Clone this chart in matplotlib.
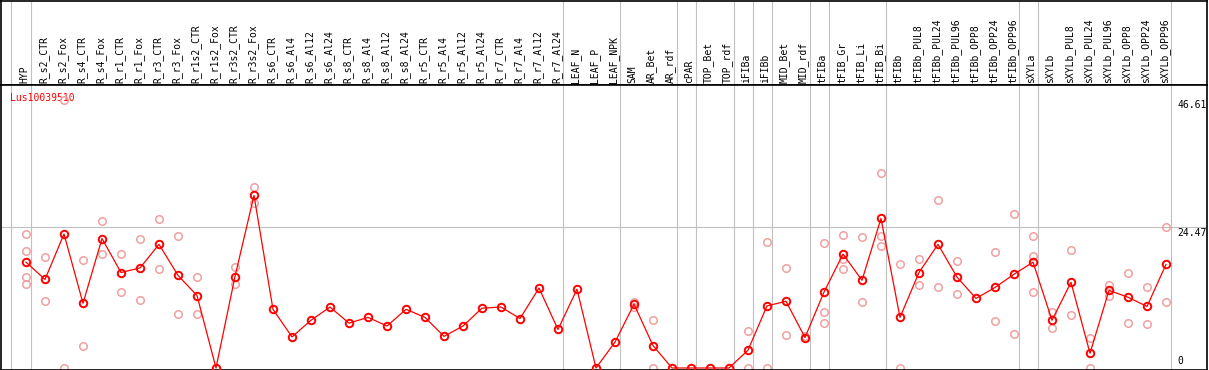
import numpy as np
import matplotlib
matplotlib.use("Agg")
import matplotlib.pyplot as plt

# sample names (header columns)
samples = ["HYP", "R_s2_CTR", "R_s2_Fox", "R_s4_CTR", "R_s4_Fox", "R_r1_CTR",
           "R_r1_Fox", "R_r3_CTR", "R_r3_Fox", "R_r1s2_CTR", "R_r1s2_Fox",
           "R_r3s2_CTR", "R_r3s2_Fox", "R_s6_CTR", "R_s6_Al4", "R_s6_Al12",
           "R_s6_Al24", "R_s8_CTR", "R_s8_Al4", "R_s8_Al12", "R_s8_Al24",
           "R_r5_CTR", "R_r5_Al4", "R_r5_Al12", "R_r5_Al24", "R_r7_CTR",
           "R_r7_Al4", "R_r7_Al12", "R_r7_Al24", "LEAF_N", "LEAF_P", "LEAF_NPK",
           "SAM", "AR_Bet", "AR_rdf", "cPAR", "TOP_Bet", "TOP_rdf", "iFIBa",
           "iFIBb", "MID_Bet", "MID_rdf", "tFIBa", "tFIB_Gr", "tFIB_Li",
           "tFIB_Bi", "tFIBb", "tFIBb_PUL8", "tFIBb_PUL24", "tFIBb_PUL96",
           "tFIBb_OPP8", "tFIBb_OPP24", "tFIBb_OPP96", "sXYLa", "sXYLb",
           "sXYLb_PUL8", "sXYLb_PUL24", "sXYLb_PUL96", "sXYLb_OPP8",
           "sXYLb_OPP24", "sXYLb_OPP96"]

# mean expression per sample
means = [18.4, 15.4, 23.3, 11.25, 22.5, 16.6, 17.4, 21.5, 16.1, 12.6, 0, 15.9, 30.0,
         10.2, 5.4, 8.3, 10.6, 7.8, 8.8, 7.3, 10.2, 8.8, 5.5, 7.3, 10.4, 10.6, 8.6,
         13.9, 6.7, 13.7, 0,
         4.5, 11.1, 3.9, 0, 0, 0, 0, 3.1, 10.8, 11.6, 5.3, 13.2, 19.8, 15.25, 26.0,
         8.8, 16.6, 21.5, 15.8, 12.1, 14.0, 16.3, 18.4, 8.3, 14.9, 2.55, 13.5, 12.3,
         10.7, 18.0]

# visible replicate values per sample
reps = [[23.3, 20.3, 15.8, 14.6], [19.3, 11.6], [46.61, 0], [18.7, 3.8], [25.5, 19.8],
        [19.8, 13.3], [22.5, 11.9], [25.9, 17.2], [22.9, 9.4], [15.9, 9.4], [],
        [17.6, 14.6], [31.4, 28.6],
        [], [], [], [], [], [], [], [], [], [], [], [], [], [], [], [], [], [], [],
        [11.5, 10.6], [8.3, 0], [], [], [], [], [6.4, 0], [21.9, 0], [17.3, 5.7],
        [5.6], [21.7, 9.7, 7.9], [23.1, 18.9, 17.2], [22.7, 11.4], [33.9, 22.9, 21.2],
        [18.0, 0], [18.9, 14.4], [29.2, 14.0], [18.6, 12.8], [], [20.1, 8.1],
        [26.7, 5.9], [22.9, 19.4, 13.2], [9.7, 6.9], [20.6, 9.2], [5.3, 0],
        [14.4, 12.6], [16.6, 7.9], [14.0, 7.6], [24.6, 11.4]]

# last sample of each group (vertical separators)
group_ends = [0, 28, 31, 34, 35, 37, 38, 39, 41, 42, 45, 52, 53, 60]

gene = "Lus10039510"
y_max = 46.61
y_mid = 24.47

W, H = 1209, 370
fig = plt.figure(figsize=(W / 100, H / 100), dpi=100)
mono = "DejaVu Sans Mono"
grey = "#c0c0c0"

x = np.arange(len(samples))
xlim = ((1 - 26) / 19, (1207 - 26) / 19)
seps = [-0.8] + [g + 0.25 for g in group_ends]

# header with sample names
axh = fig.add_axes([1 / W, (H - 85) / H, 1206 / W, 84.5 / H])
axh.set_xlim(*xlim)
axh.set_ylim(0, 84.5)
for s in seps:
    axh.axvline(s, color=grey, lw=0.8, zorder=1)
for i, name in enumerate(samples):
    axh.text(i - 0.08, 2, name, rotation=90, ha="center", va="bottom",
             fontsize=7, family=mono, color="black")
axh.set_xticks([])
axh.set_yticks([])
for sp in axh.spines.values():
    sp.set_linewidth(1.2)

# main plot
ax = fig.add_axes([1 / W, 0.5 / H, 1206 / W, 284.5 / H])
ax.set_xlim(*xlim)
ax.set_ylim(-0.26, 49.2)
for s in seps:
    ax.axvline(s, color=grey, lw=0.8, zorder=1)
ax.axhline(y_mid, color=grey, lw=0.8, zorder=1)

rx, ry = [], []
for i, r in enumerate(reps):
    rx += [i] * len(r)
    ry += r
ax.plot(rx, ry, "o", ms=5.4, mfc="none", mec="#f0a0a0", mew=1.1, zorder=2)
ax.plot(x, means, "-", color="red", lw=0.9, zorder=3)
ax.plot(x, means, "o", ms=5.4, mfc="none", mec="red", mew=1.4, zorder=4)

ax.text(9 / 1206, 1 - 8 / 284.5, gene, transform=ax.transAxes, color="red",
        fontsize=7, family=mono, ha="left", va="top", zorder=1)

ax.text(60.6, y_max, "%.2f" % y_max, fontsize=7, family=mono, ha="left", va="top")
ax.text(60.6, y_mid - 0.2, "%.2f" % y_mid, fontsize=7, family=mono, ha="left", va="top")
ax.text(60.6, 0.4, "0", fontsize=7, family=mono, ha="left", va="bottom")

ax.set_xticks([])
ax.set_yticks([])
for sp in ax.spines.values():
    sp.set_linewidth(1.2)

fig.savefig("out.png", dpi=100)
